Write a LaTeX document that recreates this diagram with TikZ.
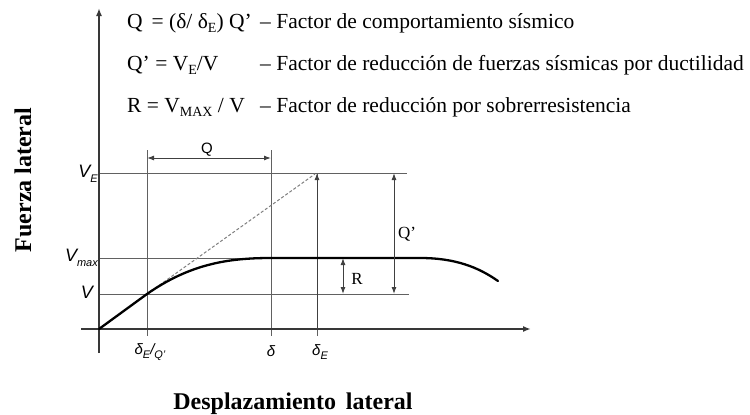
\documentclass[tikz,border=0pt]{standalone}
\usepackage{fontspec}
\setmainfont{Liberation Serif}
\setsansfont{Liberation Sans}
\usetikzlibrary{arrows.meta}
\newcommand\mysub[1]{\raisebox{-0.22em}{\fontsize{14}{14}\selectfont #1}}
\newcommand\lsub[1]{\raisebox{-0.3em}{\fontsize{11}{11}\selectfont #1}}
\begin{document}
\begin{tikzpicture}[x=1pt,y=-1pt,
  gridline/.style={line width=1pt, draw=black!62},
  axisline/.style={line width=1.7pt, draw=black!78},
  dimline/.style={line width=1pt, draw=black!75, {Latex[length=7pt,width=5pt]}-{Latex[length=7pt,width=5pt]}},
  curveline/.style={line width=2.3pt, draw=black, line cap=round},
  hdr/.style={inner sep=0pt, font=\fontsize{21.5}{24}\selectfont},
  axlbl/.style={inner sep=0pt, font=\bfseries\fontsize{24}{26}\selectfont},
  vlbl/.style={inner sep=0pt, font=\sffamily\itshape\fontsize{18}{20}\selectfont},
  dlbl/.style={inner sep=0pt, font=\sffamily\itshape\fontsize{15}{17}\selectfont},
  glbl/.style={inner sep=0pt, font=\fontsize{17}{19}\selectfont}]
\useasboundingbox (0,0) rectangle (750,415);

% header text
\node[hdr, anchor=base west] (h1a) at (127,28) {Q\, = (δ/ δ\mysub{E}) Q'};
\node[hdr, anchor=base west] (h1b) at (260,28) {– Factor de comportamiento sísmico};
\node[hdr, anchor=base west] (h2a) at (127,70) {Q' = V\mysub{E}/V};
\node[hdr, anchor=base west] (h2b) at (260,70) {– Factor de reducción de fuerzas sísmicas por ductilidad};
\node[hdr, anchor=base west] (h3a) at (127,112) {R = V\mysub{MAX} / V};
\node[hdr, anchor=base west] (h3b) at (260,112) {– Factor de reducción por sobrerresistencia};

% axis labels
\node[axlbl, rotate=90, anchor=base] (ylab) at (31,180) {Fuerza lateral};
\node[axlbl, anchor=base] (xlab) at (293,409) {Desplazamiento\, lateral};

% coordinates
\coordinate (O) at (99,329);
\coordinate (ytop) at (99,8);
\coordinate (ybot) at (99,353);
\coordinate (xleft) at (81,329);
\coordinate (xright) at (531,329);
\coordinate (a1t) at (147,150);
\coordinate (a1b) at (147,336);
\coordinate (a2t) at (271,150);
\coordinate (a2b) at (271,336);
\coordinate (a3t) at (317,173);
\coordinate (a3b) at (317,336);
\coordinate (a3x) at (317,329);
\coordinate (veL) at (99,173);
\coordinate (veR) at (407,173);
\coordinate (vmL) at (99,258);
\coordinate (vmR) at (271,258);
\coordinate (vL) at (99,294);
\coordinate (vR) at (409,294);
\coordinate (P1) at (147,294);
\coordinate (P2) at (271,258);
\coordinate (P3) at (420,258);
\coordinate (P4) at (498,281);
\coordinate (Pe) at (315,174);
\coordinate (qL) at (147,158);
\coordinate (qR) at (271,158);
\coordinate (qpT) at (394,173);
\coordinate (qpB) at (394,294);
\coordinate (rT) at (343,258);
\coordinate (rB) at (343,294);

% grid lines
\draw[gridline] (a1t) -- (a1b);
\draw[gridline] (a2t) -- (a2b);
\draw[gridline] (a3b) -- (a3t);
\draw[gridline] (veL) -- (veR);
\draw[gridline] (vmL) -- (vmR);
\draw[gridline] (vL) -- (vR);

% axes
\draw[axisline, -{Latex[length=8pt,width=6pt]}] (ybot) -- (ytop);
\draw[axisline, -{Latex[length=8pt,width=6pt]}] (xleft) -- (xright);

% dashed secant
\draw[line width=1pt, draw=black!50, dash pattern=on 3pt off 2pt] (P1) -- (Pe);

% arrow on delta_E line
\draw[line width=1pt, draw=black!75, -{Latex[length=7pt,width=5pt]}] (a3x) -- (a3t);

% capacity curve
\draw[curveline] (O) -- (P1) .. controls (190,264) and (228,258) .. (P2) -- (P3)
  .. controls (455,258) and (478,267) .. (P4);

% dimension arrows
\draw[dimline] (qL) -- (qR);
\draw[dimline] (qpT) -- (qpB);
\draw[dimline] (rT) -- (rB);

% graph labels
\node[dlbl, font=\sffamily\fontsize{15}{17}\selectfont] (lQ) at (207,150) {Q};
\node[glbl] (lQp) at (407,234) {Q'};
\node[glbl] (lR) at (357,279) {R};

\node[vlbl, anchor=base east] (lVE) at (98,177) {V\lsub{E}};
\node[vlbl, anchor=base east] (lVm) at (98,261) {V\lsub{max}};
\node[vlbl, anchor=base east] (lV) at (93,298) {V};

\node[dlbl] (ld1) at (150,352) {δ\lsub{E}/\lsub{Q'}};
\node[dlbl] (ld2) at (271,351) {δ};
\node[dlbl] (ld3) at (320,352) {δ\lsub{E}};
\end{tikzpicture}
\end{document}
